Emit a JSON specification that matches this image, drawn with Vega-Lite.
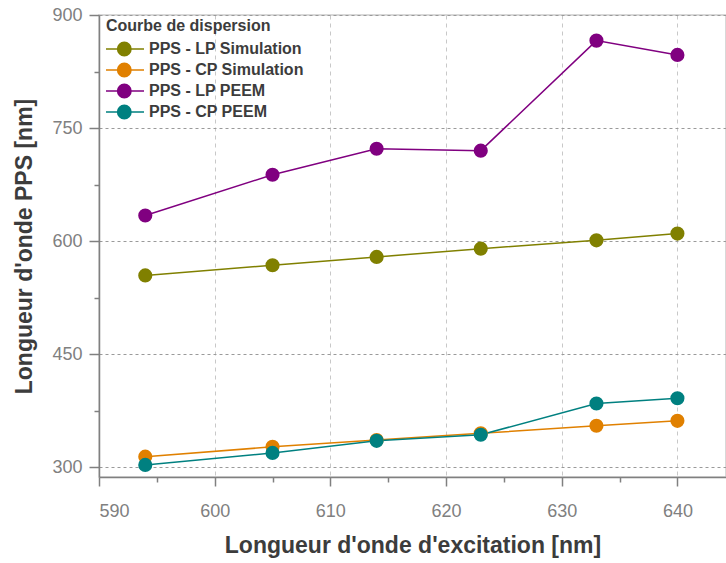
{
  "$schema": "https://vega.github.io/schema/vega-lite/v6.json",
  "width": 627,
  "height": 462,
  "autosize": "none",
  "padding": {"left": 99, "top": 15, "right": 0, "bottom": 86},
  "config": {
    "font": "Liberation Sans",
    "view": {"stroke": "#cccccc", "strokeWidth": 1.5}
  },
  "data": {
    "values": [
      {"series": "PPS - LP Simulation", "x": 594, "y": 554.5},
      {"series": "PPS - LP Simulation", "x": 605, "y": 568},
      {"series": "PPS - LP Simulation", "x": 614, "y": 579},
      {"series": "PPS - LP Simulation", "x": 623, "y": 590},
      {"series": "PPS - LP Simulation", "x": 633, "y": 601},
      {"series": "PPS - LP Simulation", "x": 640, "y": 610},
      {"series": "PPS - LP PEEM", "x": 594, "y": 634},
      {"series": "PPS - LP PEEM", "x": 605, "y": 688},
      {"series": "PPS - LP PEEM", "x": 614, "y": 722.5},
      {"series": "PPS - LP PEEM", "x": 623, "y": 720},
      {"series": "PPS - LP PEEM", "x": 633, "y": 866},
      {"series": "PPS - LP PEEM", "x": 640, "y": 847},
      {"series": "PPS - CP Simulation", "x": 594, "y": 314},
      {"series": "PPS - CP Simulation", "x": 605, "y": 327},
      {"series": "PPS - CP Simulation", "x": 614, "y": 336},
      {"series": "PPS - CP Simulation", "x": 623, "y": 345},
      {"series": "PPS - CP Simulation", "x": 633, "y": 355},
      {"series": "PPS - CP Simulation", "x": 640, "y": 361.5},
      {"series": "PPS - CP PEEM", "x": 594, "y": 303},
      {"series": "PPS - CP PEEM", "x": 605, "y": 319},
      {"series": "PPS - CP PEEM", "x": 614, "y": 335},
      {"series": "PPS - CP PEEM", "x": 623, "y": 343},
      {"series": "PPS - CP PEEM", "x": 633, "y": 384.5},
      {"series": "PPS - CP PEEM", "x": 640, "y": 391.5}
    ]
  },
  "mark": {"type": "line", "strokeWidth": 1.5, "point": {"filled": true, "size": 200, "opacity": 1}},
  "encoding": {
    "x": {
      "field": "x", "type": "quantitative",
      "scale": {"domain": [590, 644.2], "nice": false, "zero": false},
      "axis": {
        "title": "Longueur d'onde d'excitation [nm]",
        "values": [590, 595, 600, 605, 610, 615, 620, 625, 630, 635, 640],
        "labelExpr": "datum.value % 10 === 0 ? datum.label : ''",
        "tickSize": {"condition": {"test": "datum.value % 10 === 0", "value": 9}, "value": 5},
        "gridOpacity": {"condition": {"test": "datum.value % 10 === 0", "value": 1}, "value": 0},
        "gridDash": [4, 4],
        "gridColor": "#c8c8c8",
        "gridWidth": 1,
        "domainColor": "#808080",
        "domainWidth": 1.5,
        "tickColor": "#808080",
        "tickWidth": 1.5,
        "labelFontSize": 18,
        "labelColor": "#808080",
        "labelPadding": 16,
        "titleFontSize": 23,
        "titleFontWeight": "bold",
        "titleColor": "#3c3c3c",
        "titlePadding": 14
      }
    },
    "y": {
      "field": "y", "type": "quantitative",
      "scale": {"domain": [287, 900], "nice": false, "zero": false},
      "axis": {
        "title": "Longueur d'onde PPS [nm]",
        "values": [300, 375, 450, 525, 600, 675, 750, 825, 900],
        "labelExpr": "datum.value % 150 === 0 ? datum.label : ''",
        "tickSize": {"condition": {"test": "datum.value % 150 === 0", "value": 10}, "value": 5},
        "gridOpacity": {"condition": {"test": "datum.value % 150 === 0", "value": 1}, "value": 0},
        "gridDash": [3, 3],
        "gridColor": "#9a9a9a",
        "gridWidth": 1,
        "domainColor": "#808080",
        "domainWidth": 1.5,
        "tickColor": "#808080",
        "tickWidth": 1.5,
        "labelFontSize": 18,
        "labelColor": "#808080",
        "labelPadding": 7,
        "titleFontSize": 23,
        "titleFontWeight": "bold",
        "titleColor": "#3c3c3c",
        "titlePadding": 15
      }
    },
    "color": {
      "field": "series", "type": "nominal",
      "scale": {
        "domain": ["PPS - LP Simulation", "PPS - CP Simulation", "PPS - LP PEEM", "PPS - CP PEEM"],
        "range": ["#808000", "#e08000", "#800080", "#008080"]
      },
      "legend": {
        "title": "Courbe de dispersion",
        "orient": "none",
        "legendX": 7,
        "legendY": 3,
        "padding": 0,
        "titleFontSize": 16,
        "titleFontWeight": "bold",
        "titleColor": "#3c3c3c",
        "titlePadding": 4,
        "labelFontSize": 16,
        "labelFontWeight": "bold",
        "labelColor": "#3c3c3c",
        "labelOffset": 21,
        "symbolType": "M-1.1,0H2.7M0.06,0A0.67,0.67 0 1,0 1.4,0A0.67,0.67 0 1,0 0.06,0Z",
        "symbolSize": 400,
        "symbolStrokeWidth": 1.5,
        "rowPadding": 0,
        "encode": {
          "symbols": {
            "update": {
              "fill": {"scale": "color", "field": "value"},
              "stroke": {"scale": "color", "field": "value"},
              "opacity": {"value": 1}
            }
          }
        }
      }
    }
  }
}
